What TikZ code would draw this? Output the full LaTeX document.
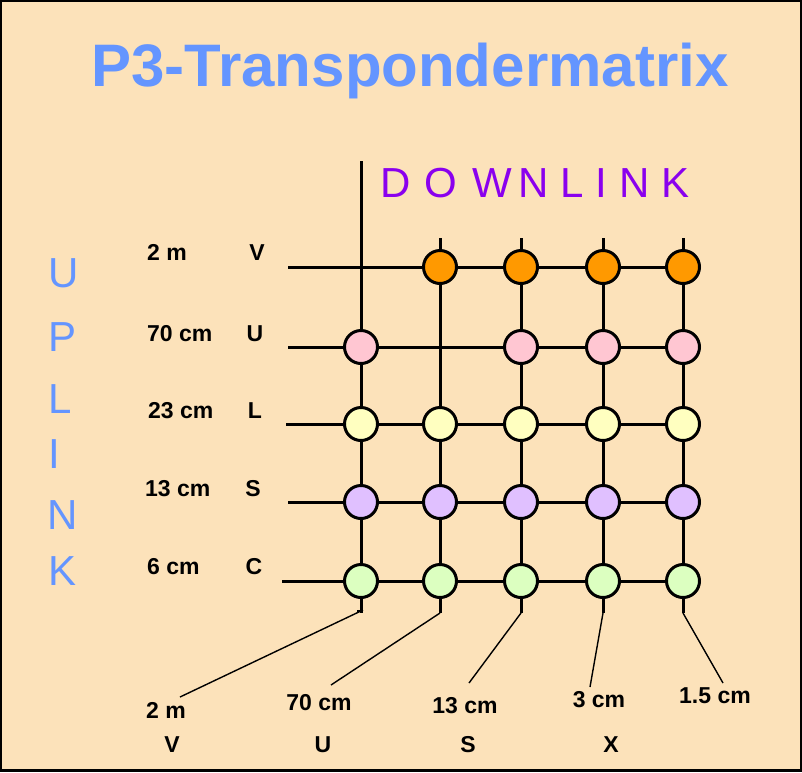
\documentclass[tikz,border=0pt]{standalone}
\usepackage{fontspec}
\setmainfont{Liberation Sans}
\definecolor{bgpeach}{HTML}{FCE2BA}
\definecolor{titleblue}{HTML}{6495FF}
\definecolor{dlpurple}{HTML}{8A00EE}
\definecolor{corange}{HTML}{FF9900}
\definecolor{cpink}{HTML}{FFC6D2}
\definecolor{cyellow}{HTML}{FFFFC0}
\definecolor{clav}{HTML}{E0C0FF}
\definecolor{cgreen}{HTML}{DCFFC0}
\begin{document}
\begin{tikzpicture}[x=1pt,y=-1pt,
  gridline/.style={line width=3pt},
  leader/.style={line width=1.4pt},
  dot/.style={circle,draw=black,line width=3pt,minimum size=33pt,inner sep=0pt},
  lbl/.style={font=\bfseries\fontsize{23}{23}\selectfont,inner sep=0pt},
  bigletter/.style={font=\fontsize{42}{42}\selectfont,inner sep=0pt},
  upl/.style={bigletter,text=titleblue,anchor=base west},
  dnl/.style={bigletter,text=dlpurple,anchor=base}]
\useasboundingbox (0,0) rectangle (802,772);
\fill[black] (0,0) rectangle (802,772);
\fill[bgpeach] (2,2) rectangle (799.5,768.5);
% title
\node[font=\bfseries\fontsize{60}{60}\selectfont,text=titleblue,inner sep=0pt,anchor=base] (title) at (410,86) {P3-Transpondermatrix};
% DOWNLINK
\node[dnl] (d1) at (396,197) {D};
\node[dnl] (d2) at (441,197) {O};
\node[dnl] (d3) at (492,197) {W};
\node[dnl] (d4) at (534,197) {N};
\node[dnl] (d5) at (572,197) {L};
\node[dnl] (d6) at (601,197) {I};
\node[dnl] (d7) at (635,197) {N};
\node[dnl] (d8) at (675,197) {K};
% UPLINK
\node[upl] (u1) at (48,287) {U};
\node[upl] (u2) at (48,351) {P};
\node[upl] (u3) at (48,413) {L};
\node[upl] (u4) at (48,468) {I};
\node[upl] (u5) at (47,529) {N};
\node[upl] (u6) at (48,585) {K};
% left labels
\node[lbl,anchor=base west] (lw1) at (147,260) {2 m};
\node[lbl,anchor=base west] (lw2) at (147,341) {70 cm};
\node[lbl,anchor=base west] (lw3) at (148,418) {23 cm};
\node[lbl,anchor=base west] (lw4) at (145,496) {13 cm};
\node[lbl,anchor=base west] (lw5) at (147,574) {6 cm};
\node[lbl,anchor=base] (lb1) at (257,260) {V};
\node[lbl,anchor=base] (lb2) at (255,341) {U};
\node[lbl,anchor=base] (lb3) at (255,418) {L};
\node[lbl,anchor=base] (lb4) at (253,496) {S};
\node[lbl,anchor=base] (lb5) at (254,574) {C};
% grid coordinates
\foreach \c/\x in {1/361,2/440,3/521,4/603,5/683}{
  \foreach \r/\y in {V/267,U/347,L/424,S/502,C/581}{
    \coordinate (g-\r-\c) at (\x,\y);
  }
  \coordinate (b\c) at (\x,613);
}
\coordinate (t1) at (361,161);
\coordinate (t2) at (440,238);
\coordinate (t3) at (521,238);
\coordinate (t4) at (603,238);
\coordinate (t5) at (683,238);
\coordinate (hV) at (288,267);
\coordinate (hU) at (288,347);
\coordinate (hL) at (286,424);
\coordinate (hS) at (288,502);
\coordinate (hC) at (282,581);
% grid lines
\foreach \r in {V,U,L,S,C}{\draw[gridline] (h\r) -- (g-\r-5);}
\foreach \c in {1,...,5}{\draw[gridline] (t\c) -- (b\c);}
\draw[line width=2pt] (357,611) -- (363,611);
% circles
\foreach \c in {2,...,5}{\node[dot,fill=corange] (n-V-\c) at (g-V-\c) {};}
\foreach \c in {1,3,4,5}{\node[dot,fill=cpink] (n-U-\c) at (g-U-\c) {};}
\foreach \c in {1,...,5}{
  \node[dot,fill=cyellow] (n-L-\c) at (g-L-\c) {};
  \node[dot,fill=clav] (n-S-\c) at (g-S-\c) {};
  \node[dot,fill=cgreen] (n-C-\c) at (g-C-\c) {};
}
% bottom labels
\node[lbl,anchor=base] (bw1) at (166,718) {2 m};
\node[lbl,anchor=base] (bw2) at (319,710) {70 cm};
\node[lbl,anchor=base] (bw3) at (465,713) {13 cm};
\node[lbl,anchor=base] (bw4) at (599,707) {3 cm};
\node[lbl,anchor=base] (bw5) at (715,703) {1.5 cm};
\node[lbl,anchor=base] (bl1) at (172,752) {V};
\node[lbl,anchor=base] (bl2) at (323,752) {U};
\node[lbl,anchor=base] (bl3) at (468,752) {S};
\node[lbl,anchor=base] (bl4) at (611,752) {X};
% leaders
\coordinate (k1) at (363,610);
\coordinate (e1) at (180,697);
\coordinate (e2) at (331,685);
\coordinate (e3) at (469,683);
\coordinate (e4) at (590,687);
\coordinate (e5) at (723,683);
\draw[leader] (k1) -- (e1);
\draw[leader] (b2) -- (e2);
\draw[leader] (b3) -- (e3);
\draw[leader] (b4) -- (e4);
\draw[leader] (b5) -- (e5);
\end{tikzpicture}
\end{document}
